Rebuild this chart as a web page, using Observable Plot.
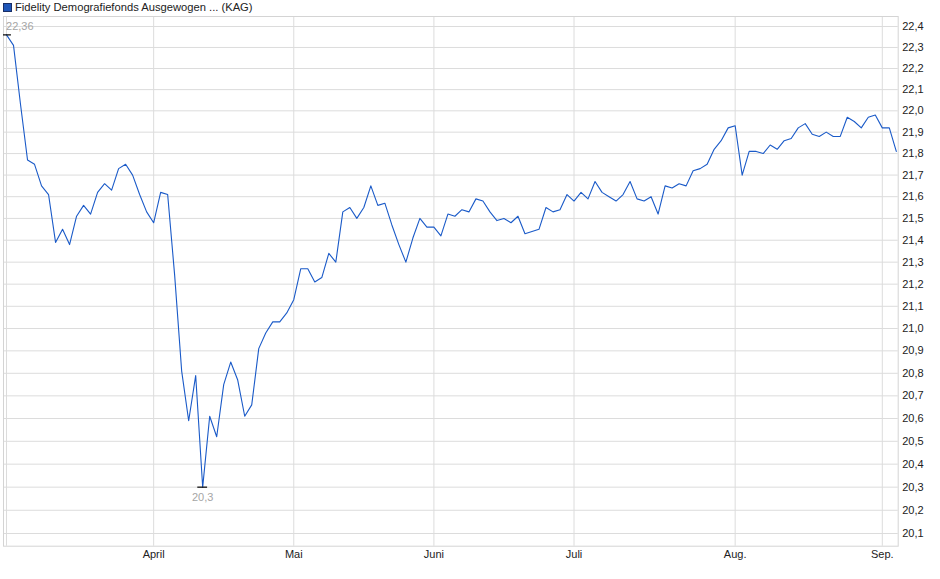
<!DOCTYPE html>
<html><head><meta charset="utf-8">
<script src="https://cdn.jsdelivr.net/npm/d3@7"></script>
<script src="https://cdn.jsdelivr.net/npm/@observablehq/plot@0.6"></script>
<style>
body{margin:0;background:#fff;font-family:"Liberation Sans",Arial,sans-serif;}
#legend{height:14px;font-size:11.2px;color:#222;padding-left:3px;white-space:nowrap;display:flex;align-items:center;}
#legend .sw{display:inline-block;width:7px;height:7px;background:#1f56b8;border:1px solid #1a2f66;margin-right:3px;}
#chart svg{display:block;}
</style></head><body>
<div id="legend"><span class="sw"></span><span>Fidelity Demografiefonds Ausgewogen ... (KAG)</span></div>
<div id="chart"></div>
<script>
// Daily prices (trading days from early March to early September)
const prices = [
  22.36, 22.31, 22.03, 21.77, 21.75, 21.65, 21.61, 21.39, 21.45, 21.38,
  21.51, 21.56, 21.52, 21.62, 21.66, 21.63, 21.73, 21.75, 21.70, 21.61,
  21.53, 21.48, 21.62, 21.61, 21.24, 20.81, 20.59, 20.79, 20.30, 20.61,
  20.52, 20.75, 20.85, 20.77, 20.61, 20.66, 20.91, 20.98, 21.03, 21.03,
  21.07, 21.13, 21.27, 21.27, 21.21, 21.23, 21.34, 21.30, 21.53, 21.55,
  21.50, 21.55, 21.65, 21.56, 21.57, 21.47, 21.38, 21.30, 21.41, 21.50,
  21.46, 21.46, 21.42, 21.52, 21.51, 21.54, 21.53, 21.59, 21.58, 21.53,
  21.49, 21.50, 21.48, 21.51, 21.43, 21.44, 21.45, 21.55, 21.53, 21.54,
  21.61, 21.58, 21.62, 21.59, 21.67, 21.62, 21.60, 21.58, 21.61, 21.67,
  21.59, 21.58, 21.60, 21.52, 21.65, 21.64, 21.66, 21.65, 21.72, 21.73,
  21.75, 21.82, 21.86, 21.92, 21.93, 21.70, 21.81, 21.81, 21.80, 21.84,
  21.82, 21.86, 21.87, 21.92, 21.94, 21.89, 21.88, 21.90, 21.88, 21.88,
  21.97, 21.95, 21.92, 21.97, 21.98, 21.92, 21.92, 21.81
];
// first trading day of each month (index into prices)
const monthTickIndex = [21, 41, 61, 81, 104, 125];
const monthLabels = ["April", "Mai", "Juni", "Juli", "Aug.", "Sep."];
const gridTickIndex = [0, 21, 41, 61, 81, 104, 125];
const yTicks = [20.1, 20.2, 20.3, 20.4, 20.5, 20.6, 20.7, 20.8, 20.9, 21.0, 21.1, 21.2,
                21.3, 21.4, 21.5, 21.6, 21.7, 21.8, 21.9, 22.0, 22.1, 22.2, 22.3, 22.4];

const de = d3.formatLocale({decimal: ",", thousands: ".", grouping: [3], currency: ["", " €"]});
const fmtTick = de.format(".1f");
const fmtVal = de.format("");

const data = prices.map((v, i) => ({i, v}));
const iMax = d3.maxIndex(prices), iMin = d3.minIndex(prices);
const xDomain = [-0.43, 127.27];
const fontFamily = '"Liberation Sans", Arial, sans-serif';

const chart = Plot.plot({
  width: 940,
  height: 565,
  marginTop: 2,
  marginBottom: 33.3,
  marginLeft: 3,
  marginRight: 42.3,
  x: {domain: xDomain},
  y: {type: "log", domain: [20.0455, 22.448]},
  style: {fontFamily, fontSize: "11px", color: "#222", background: "#fff", overflow: "visible"},
  marks: [
    Plot.gridY(yTicks, {stroke: "#dcdcdc", strokeOpacity: 1}),
    Plot.gridX(gridTickIndex, {stroke: "#dcdcdc", strokeOpacity: 1}),
    Plot.frame({stroke: "#d4d4d4"}),
    Plot.axisY(yTicks, {anchor: "right", tickSize: 0, tickPadding: 4, tickFormat: fmtTick, label: null, fontSize: 11}),
    Plot.axisX(monthTickIndex, {anchor: "bottom", tickSize: 0, tickPadding: 3.5,
      tickFormat: d => monthLabels[monthTickIndex.indexOf(d)], label: null, fontSize: 11}),
    Plot.line(data, {x: "i", y: "v", stroke: "#1a5ac8", strokeWidth: 1.1}),
    Plot.ruleY([prices[iMax]], {x1: Math.max(iMax - 0.7, xDomain[0]), x2: iMax + 0.7, stroke: "#000", strokeWidth: 1.2}),
    Plot.ruleY([prices[iMin]], {x1: iMin - 0.7, x2: iMin + 0.7, stroke: "#000", strokeWidth: 1.2}),
    Plot.text([data[iMax]], {x: "i", y: "v", text: d => fmtVal(d.v), textAnchor: "start", dx: -0.5, dy: -8.5, fill: "#a6a6a6", fontSize: 11}),
    Plot.text([data[iMin]], {x: "i", y: "v", text: d => fmtVal(d.v), textAnchor: "middle", dy: 10.5, fill: "#a6a6a6", fontSize: 11})
  ]
});
document.getElementById("chart").appendChild(chart);
</script>
</body></html>
